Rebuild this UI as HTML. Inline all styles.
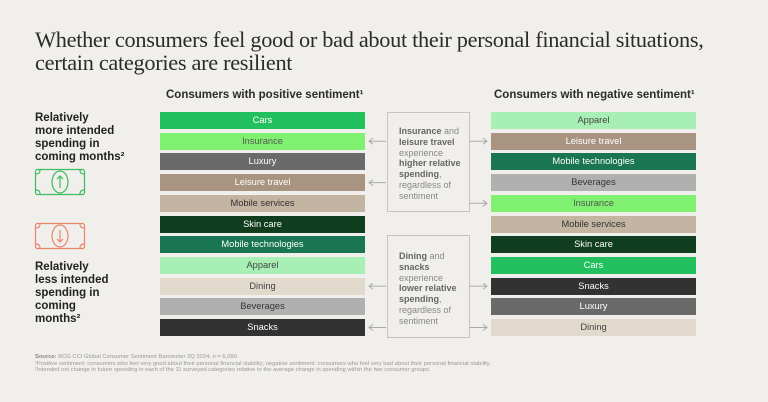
<!DOCTYPE html>
<html><head><meta charset="utf-8"><style>
body{margin:0;background:#f1efeb;width:768px;height:402px;overflow:hidden;position:relative;font-family:"Liberation Sans",sans-serif}
.t{position:absolute;font-family:"Liberation Serif",serif;font-size:22.3px;line-height:23px;color:#2b2b2b;left:35px;letter-spacing:-0.3px}
.h{position:absolute;font-size:11.5px;font-weight:bold;color:#2b2b2b;top:89px}
.lab{position:absolute;left:35px;font-size:11.5px;font-weight:bold;color:#222;line-height:13px}
.bar{position:absolute;height:17px;font-size:9.3px;text-align:center;line-height:17px}
.box{position:absolute;border:1px solid #c8c4bd;font-size:9px;color:#888;line-height:10.8px;padding:13px 0 0 11px;box-sizing:border-box}
.box b{color:#666}
.fn{position:absolute;left:35px;font-size:5.8px;color:#999;line-height:6.7px}
</style></head><body>
<div class="t" style="top:28px">Whether consumers feel good or bad about their personal financial situations,<br>certain categories are resilient</div>
<div class="h" style="left:166px">Consumers with positive sentiment¹</div>
<div class="h" style="left:494px">Consumers with negative sentiment¹</div>
<div class="lab" style="top:112px">Relatively<br>more intended<br>spending in<br>coming months²</div>
<div class="lab" style="top:261px">Relatively<br>less intended<br>spending in<br>coming<br>months²</div>
<svg style="position:absolute;left:34px;top:168px" width="54" height="84">
<g fill="none" stroke="#3dbb62" stroke-width="1.2"><rect x="1.5" y="1.5" width="49" height="25" rx="2"/><ellipse cx="26" cy="14" rx="8" ry="11"/><path d="M26 8v12M23 11l3-3 3 3M2 6q4 0 4-4M46 2q0 4 4 4M2 22q4 0 4 4M46 26q0-4 4-4"/></g>
<g fill="none" stroke="#e8856a" stroke-width="1.2" transform="translate(0,54)"><rect x="1.5" y="1.5" width="49" height="25" rx="2"/><ellipse cx="26" cy="14" rx="8" ry="11"/><path d="M26 8v12M23 17l3 3 3-3M2 6q4 0 4-4M46 2q0 4 4 4M2 22q4 0 4 4M46 26q0-4 4-4"/></g>
</svg>
<div class="box" style="left:387px;top:112px;width:83px;height:100px"><b>Insurance</b> and<br><b>leisure travel</b><br>experience<br><b>higher relative<br>spending</b>,<br>regardless of<br>sentiment</div>
<div class="box" style="left:387px;top:235px;width:83px;height:103px;padding-top:15px"><b>Dining</b> and<br><b>snacks</b><br>experience<br><b>lower relative<br>spending</b>,<br>regardless of<br>sentiment</div>
<svg id="arr" style="position:absolute;left:0;top:0" width="768" height="402"></svg>
<div id="chart"></div>
<div class="fn" style="top:354px"><b style="color:#888">Source:</b> BCG CCI Global Consumer Sentiment Barometer 2Q 2024, n = 6,090.<br>¹Positive sentiment: consumers who feel very good about their personal financial stability; negative sentiment: consumers who feel very bad about their personal financial stability.<br>²Intended net change in future spending in each of the 11 surveyed categories relative to the average change in spending within the two consumer groups.</div>
<script>
const positiveOrder=["Cars","Insurance","Luxury","Leisure travel","Mobile services","Skin care","Mobile technologies","Apparel","Dining","Beverages","Snacks"];
const negativeOrder=["Apparel","Leisure travel","Mobile technologies","Beverages","Insurance","Mobile services","Skin care","Cars","Snacks","Luxury","Dining"];
const highlighted=["Insurance","Leisure travel","Dining","Snacks"];
const colors={"Cars":["#22c05e","#fff"],"Insurance":["#80f070","#555"],"Luxury":["#6a6a6a","#fff"],"Leisure travel":["#a89480","#fff"],"Mobile services":["#c4b4a2","#333"],"Skin care":["#0f3d1e","#fff"],"Mobile technologies":["#197552","#fff"],"Apparel":["#a8efb5","#444"],"Dining":["#e0d9cc","#444"],"Beverages":["#b0b0b0","#333"],"Snacks":["#323232","#fff"]};
const top0=112,pitch=20.7;
const y=i=>top0+i*pitch;
const chart=document.getElementById('chart');
const arr=document.getElementById('arr');
function draw(list,x,side){
 list.forEach((c,i)=>{
  const d=document.createElement('div');
  d.className='bar';
  d.style.left=x+'px';d.style.width='205px';d.style.top=y(i)+'px';
  d.style.background=colors[c][0];d.style.color=colors[c][1];
  d.textContent=c;
  
  
  chart.appendChild(d);
  if(highlighted.includes(c)){
   const cy=y(i)+8.5;
   const g=document.createElementNS('http://www.w3.org/2000/svg','path');
   const dd=side==='positive'?`M386 ${cy}H369M373 ${cy-3}L369 ${cy}L373 ${cy+3}`:`M470 ${cy}H487M483 ${cy-3}L487 ${cy}L483 ${cy+3}`;
   g.setAttribute('d',dd);g.setAttribute('stroke','#aaa');g.setAttribute('fill','none');
   
   
   arr.appendChild(g);
  }
 });
}
draw(positiveOrder,160,'positive');
draw(negativeOrder,491,'negative');
</script>
</body></html>
